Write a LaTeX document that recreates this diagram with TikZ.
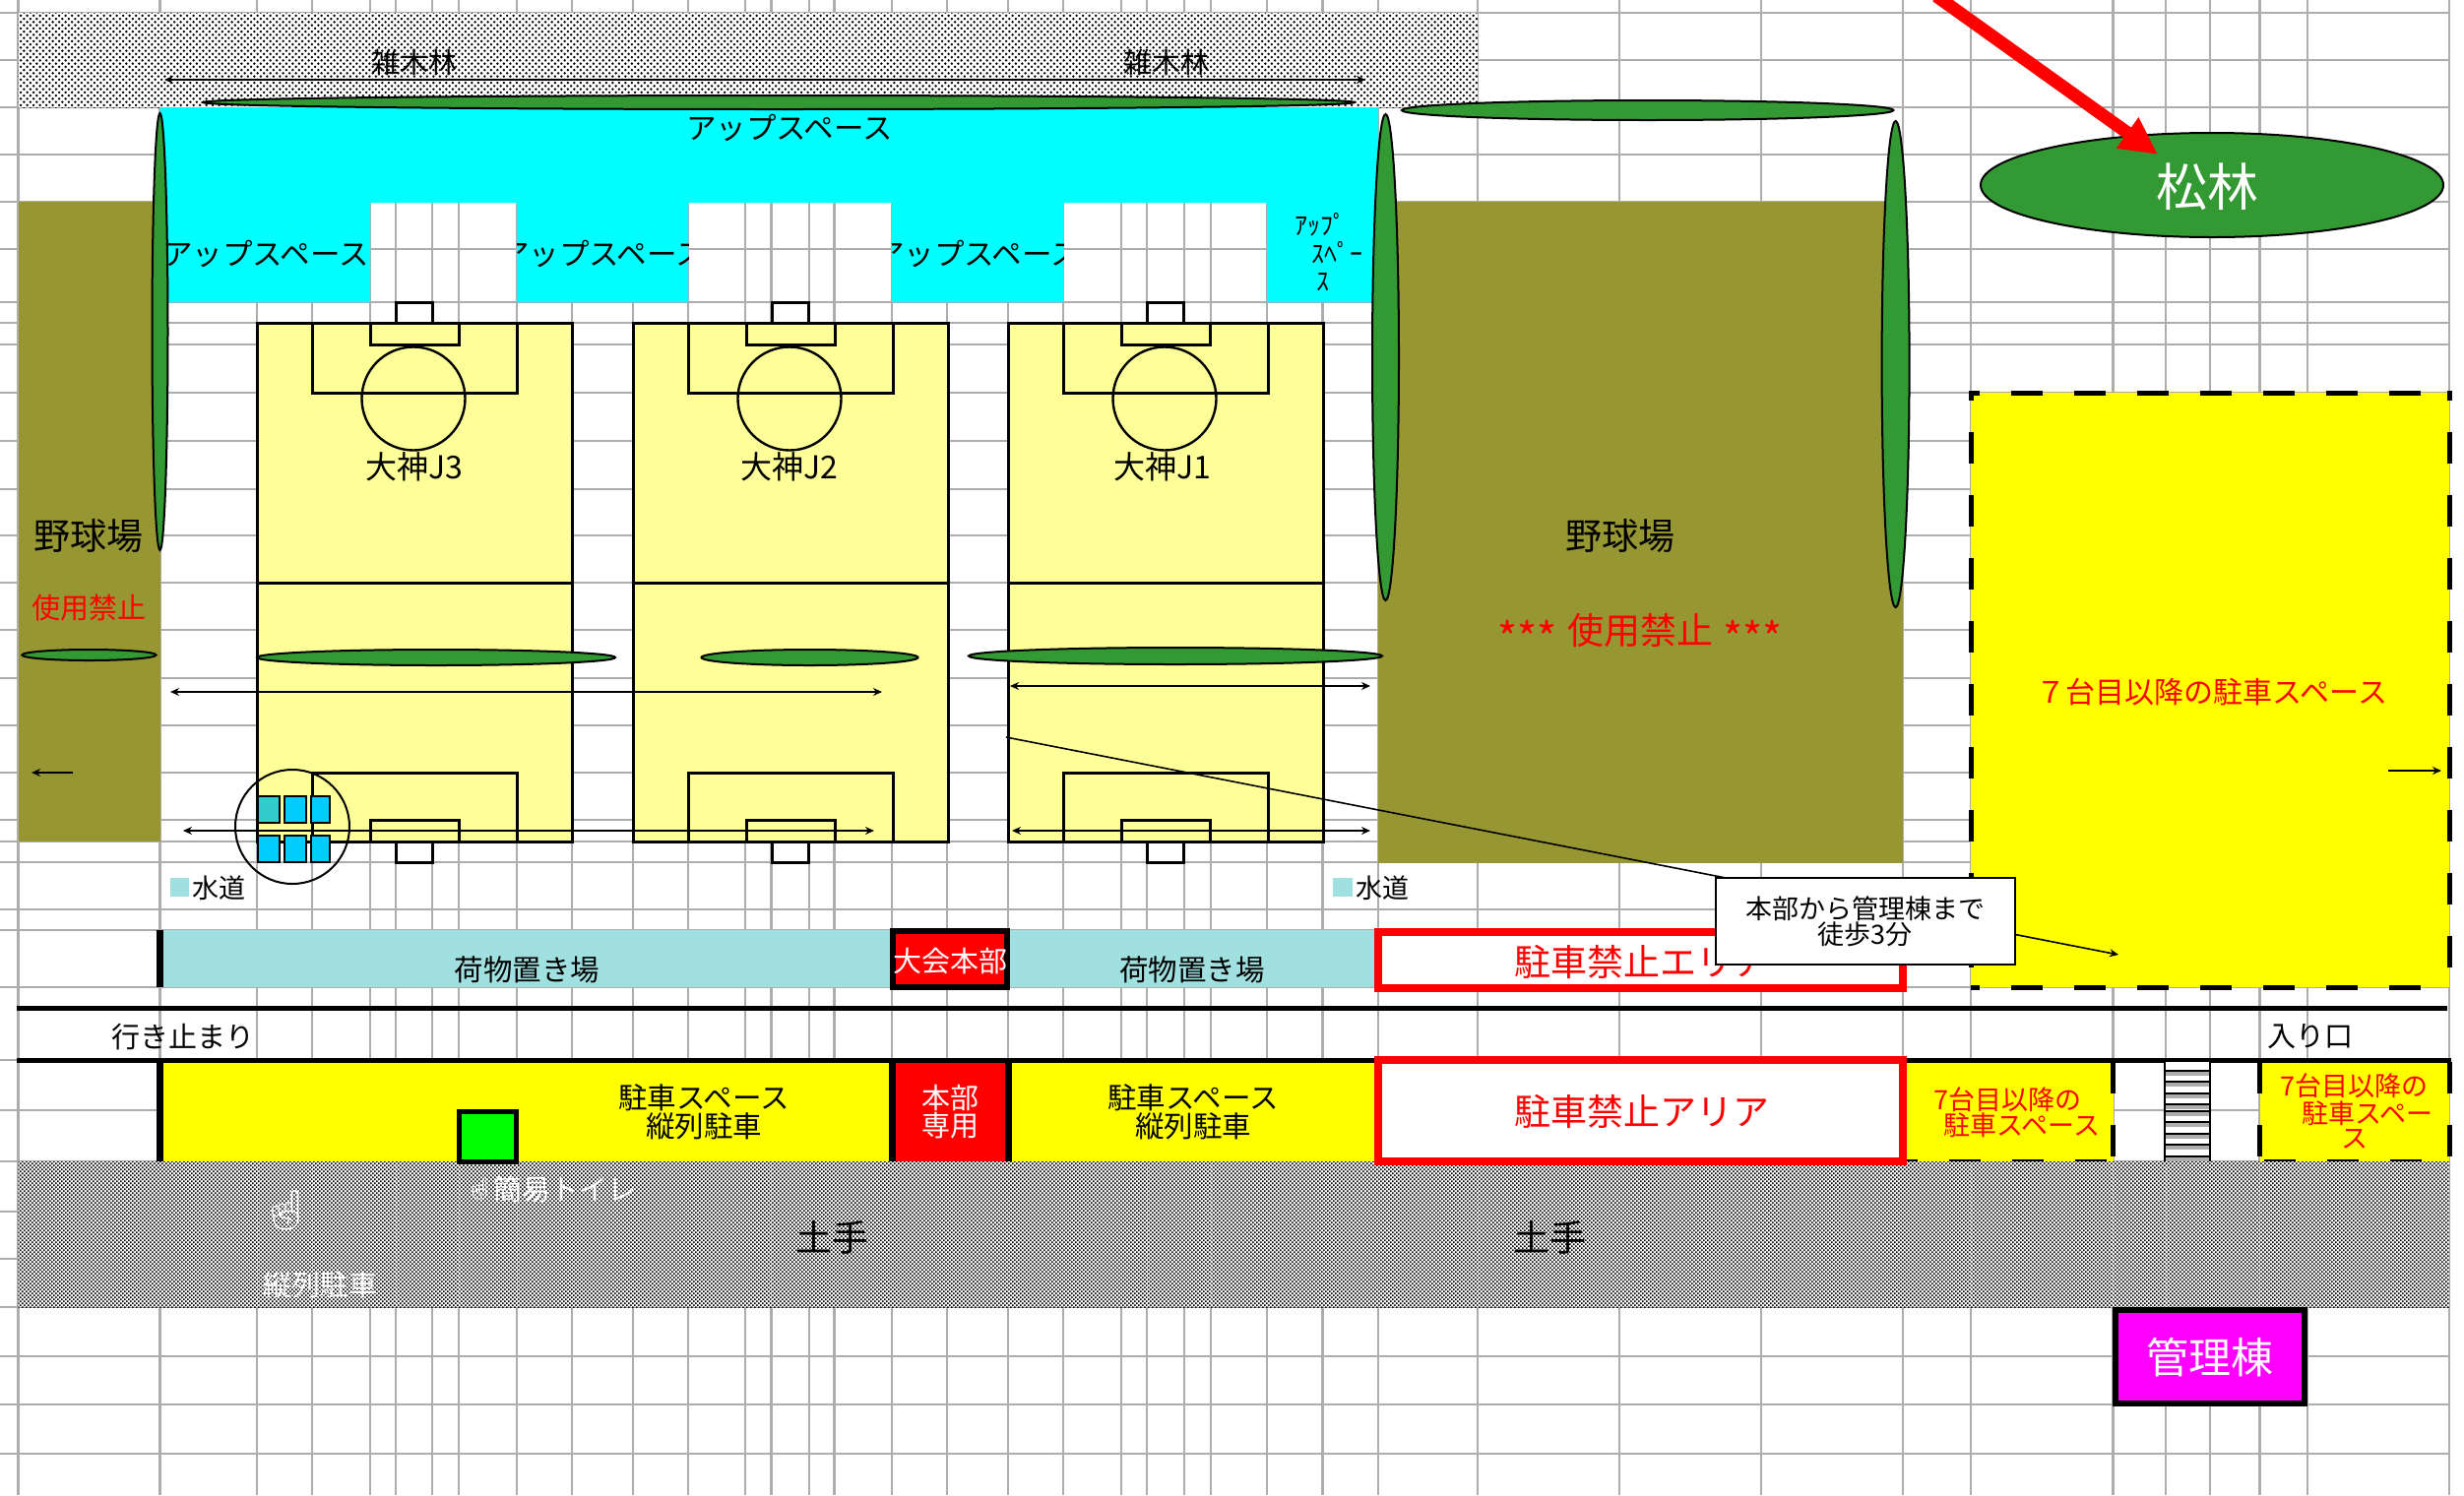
\documentclass[tikz,border=0pt]{standalone}
\usepackage{fontspec}
\usetikzlibrary{arrows.meta,patterns}
\newfontfamily\jp{Noto Sans CJK JP}
\newfontfamily\emo{Noto Emoji}
\newcommand{\fs}[1]{\fontsize{#1}{#1}\selectfont}
\pgfdeclarepatternformonly{fieldcheck}{\pgfqpoint{-2pt}{-2pt}}{\pgfqpoint{8pt}{8pt}}{\pgfqpoint{6.5pt}{6.5pt}}{%
  \pgfpathcircle{\pgfqpoint{1.6pt}{1.6pt}}{1.35pt}\pgfpathcircle{\pgfqpoint{4.85pt}{4.85pt}}{1.35pt}\pgfusepath{fill}}
\pgfdeclarepatternformonly{finecheck}{\pgfqpoint{-1pt}{-1pt}}{\pgfqpoint{5pt}{5pt}}{\pgfqpoint{4pt}{4pt}}{%
  \pgfpathrectangle{\pgfqpoint{0pt}{0pt}}{\pgfqpoint{1.7pt}{1.7pt}}\pgfpathrectangle{\pgfqpoint{2pt}{2pt}}{\pgfqpoint{1.7pt}{1.7pt}}\pgfusepath{fill}}
\definecolor{gridc}{HTML}{ADADAD}
\definecolor{olive}{HTML}{969632}
\definecolor{tree}{HTML}{339933}
\definecolor{pitch}{HTML}{FFFF99}
\definecolor{teal1}{HTML}{A1E0E0}
\definecolor{tapa}{HTML}{33CCCC}
\definecolor{tapb}{HTML}{00CCFF}
\definecolor{pureyellow}{HTML}{FFFF00}
\definecolor{purecyan}{HTML}{00FFFF}
\definecolor{puremag}{HTML}{FF00FF}
\definecolor{purered}{HTML}{FF0000}
\definecolor{puregreen}{HTML}{00FF00}
\tikzset{
  gridline/.style={gridc,line width=2.8pt},
  lbl/.style={inner sep=0pt,outer sep=0pt,align=center,font=\jp\fs{29}},
  upl/.style={lbl,font=\jp\fs{30.5}},
  treeshape/.style={fill=tree,draw=black,line width=2pt},
  line/.style={draw=black,line width=3pt},
  dim/.style={black,line width=1.6pt,{Stealth[length=9pt,width=8pt]}-{Stealth[length=9pt,width=8pt]}},
  one/.style={black,line width=1.6pt,-{Stealth[length=9pt,width=8pt]}},
  dashbox/.style={black,line width=5pt,dash pattern=on 32pt off 32pt},
  tap/.style={draw=black,line width=2pt},
}
\begin{document}
\begin{tikzpicture}[x=1pt,y=-1pt]
\useasboundingbox (0,0) rectangle (2503,1519);
\clip (0,0) rectangle (2503,1519);
\fill[white] (0,0) rectangle (2503,1519);
% grid
\foreach \gx in {18.5,162.5,261,317,376,402,439,466,525,581,643,699,757,783.5,822,847.5,906,962,1024,1080,1139,1165,1203,1230,1287,1343.5,1400,1501,1645,1789,1933,2002,2146.6,2200,2245,2295.5,2344,2488}
  \draw[gridline] (\gx,0) -- (\gx,1519);
\foreach \gy in {13,61,109,157,205,253,307,328,350,399,448,497,544,592,640,689,737,785,833,855,876,924,945,1003,1077,1128,1180,1231,1279,1328,1378,1427,1477}
  \draw[gridline] (0,\gy) -- (2489,\gy);
% woods
\fill[white] (18.5,13) rectangle (1501,109);
\fill[pattern=fieldcheck,pattern color=black] (18.5,13) rectangle (1501,109);
% cyan
\fill[purecyan] (162.5,109) -- (1400,109) -- (1400,307) -- (1287,307) -- (1287,206) -- (1080,206) -- (1080,307) -- (906,307) -- (906,206) -- (699,206) -- (699,307) -- (525,307) -- (525,206) -- (376,206) -- (376,307) -- (162.5,307) -- cycle;
% olive
\fill[olive] (18.5,205) rectangle (162.5,855);
\fill[olive] (1400,205) rectangle (1933,877);
% pitches
\foreach \ox/\pn/\tx in {0/3/421,382/2/420,763/1/418}{
  \begin{scope}[xshift=\ox pt]
  \fill[pitch] (261,328) rectangle (581,855);
  \draw[line] (261,328) rectangle (581,855);
  \draw[line] (261,592) -- (581,592);
  \draw[line] (317,328) rectangle (525,399);
  \draw[line] (376,328) rectangle (466,350);
  \draw[line] (402,328) -- (402,307) -- (439,307) -- (439,328);
  \draw[line] (317,855) rectangle (525,785);
  \draw[line] (376,855) rectangle (466,833);
  \draw[line] (402,855) -- (402,876) -- (439,876) -- (439,855);
  \draw[black,line width=2.4pt] (420,405) circle [radius=52.5pt];
  \node[lbl,font=\jp\fs{32}] (field\pn) at (\tx,474) {大神J\pn};
  \end{scope}
}
% trees
\draw[treeshape] (791,104) ellipse [x radius=585pt,y radius=7pt];
\draw[treeshape] (1673.7,112) ellipse [x radius=249.7pt,y radius=10pt];
\draw[treeshape] (162.5,337) ellipse [x radius=8pt,y radius=222pt];
\draw[treeshape] (1407.5,363) ellipse [x radius=13.5pt,y radius=247pt];
\draw[treeshape] (1925.6,370) ellipse [x radius=14pt,y radius=247pt];
\draw[treeshape] (90.5,665.5) ellipse [x radius=68pt,y radius=5.5pt];
\draw[treeshape] (443,668) ellipse [x radius=182pt,y radius=8pt];
\draw[treeshape] (822.5,668) ellipse [x radius=110pt,y radius=8pt];
\draw[treeshape] (1194,666.5) ellipse [x radius=210pt,y radius=8.5pt];
\draw[treeshape] (2247,188) ellipse [x radius=235pt,y radius=53pt];
\node[lbl,font=\jp\fs{52},white] (pine) at (2242,190) {松林};
% red arrow
\coordinate (redstart) at (1967,-4);
\coordinate (redend) at (2192,157);
\draw[purered,line width=13pt,-{Triangle[length=38pt,width=36pt]}] (redstart) -- (redend);
% labels top
\node[lbl] (wood1) at (421,63) {雑木林};
\node[lbl] (wood2) at (1184.5,63) {雑木林};
\coordinate (a1l) at (167,81); \coordinate (a1r) at (1387,81);
\draw[dim] (a1l) -- (a1r);
\node[upl] (up0) at (802,130) {アップスペース};
\node[upl] (up1) at (270,258) {アップスペース};
\begin{scope}
\clip (525,206) rectangle (699,307);
\node[upl] (up2) at (612,258) {アップスペース};
\end{scope}
\begin{scope}
\clip (906,206) rectangle (1080,307);
\node[upl] (up3) at (993,258) {アップスペース};
\end{scope}
\node[lbl,font=\jp\fs{26}] (up4a) at (1341,228) {ｱｯﾌﾟ};
\node[lbl,font=\jp\fs{26}] (up4b) at (1358,257) {ｽﾍﾟｰ};
\node[lbl,font=\jp\fs{26}] (up4c) at (1344,287) {ｽ};
\node[lbl,font=\jp\fs{37}] (ball1) at (90,544) {野球場};
\node[lbl,purered] (ban1) at (90,618) {使用禁止};
\node[lbl,font=\jp\fs{37}] (ball2) at (1646,544) {野球場};
\node[lbl,font=\jp\fs{37},purered] (ban2) at (1666,644) {{\fs{43}\raisebox{-10pt}{***}}\hspace{10pt}使用禁止\hspace{10pt}{\fs{43}\raisebox{-10pt}{***}}};
% dim arrows
\coordinate (a2l) at (173,703); \coordinate (a2r) at (896,703);
\draw[dim] (a2l) -- (a2r);
\coordinate (a3l) at (1026,697); \coordinate (a3r) at (1392,697);
\draw[dim] (a3l) -- (a3r);
\coordinate (a4l) at (186,844); \coordinate (a4r) at (888,844);
\draw[dim] (a4l) -- (a4r);
\coordinate (a5l) at (1028,844); \coordinate (a5r) at (1392,844);
\draw[dim] (a5l) -- (a5r);
\coordinate (a6s) at (74,785); \coordinate (a6e) at (32,785);
\draw[one] (a6s) -- (a6e);
\coordinate (a7s) at (2426,783); \coordinate (a7e) at (2480,783);
% taps
\foreach \tx/\ty/\tc/\tw in {262/809/tapa/22,289/809/tapb/22,316/809/tapb/19,262/849/tapb/22,289/849/tapb/22,316/849/tapb/19}
  \draw[tap,fill=\tc] (\tx,\ty) rectangle ++(\tw,27);
\draw[black,line width=2pt] (297,840) circle [radius=58pt];
% water legend
\fill[teal1] (173,892) rectangle (192,911);
\node[lbl,font=\jp\fs{27},anchor=west] (water1) at (195,902) {水道};
\fill[teal1] (1354,892) rectangle (1374,911);
\node[lbl,font=\jp\fs{27},anchor=west] (water2) at (1377,902) {水道};
% luggage row
\fill[teal1] (165,945) rectangle (1396,1003);
\draw[black,line width=7pt] (162.5,945) -- (162.5,1003);
\node[lbl,font=\jp\fs{29.5}] (lug1) at (535.5,985) {荷物置き場};
\node[lbl,font=\jp\fs{29.5}] (lug2) at (1211,985) {荷物置き場};
\draw[black,fill=purered,line width=6pt] (907,946) rectangle (1023,1003);
\node[lbl,white] (hq) at (965,977) {大会本部};
\draw[purered,fill=white,line width=8pt] (1400,947) rectangle (1933,1004);
\node[lbl,purered,font=\jp\fs{37}] (nop1) at (1668,977) {駐車禁止エリア};
% big yellow
\fill[pureyellow] (2002,399) rectangle (2488,1003);
\draw[dashbox,dash phase=23pt] (2002,399) -- (2488,399);
\draw[dashbox] (2002,397) -- (2002,407);
\draw[dashbox] (2488,397) -- (2488,407);
\draw[dashbox] (2488,439) -- (2488,1003);
\draw[dashbox] (2002,439) -- (2002,1003);
\draw[dashbox,dash phase=23pt] (2002,1003) -- (2488,1003);
\node[lbl,purered,font=\jp\fs{30}] (over) at (2247,703) {７台目以降の駐車スペース};
\draw[one] (a7s) -- (a7e);
% callout
\coordinate (calls) at (1022,749); \coordinate (calle) at (2152,970);
\draw[one] (calls) -- (calle);
\node[draw=black,fill=white,line width=2pt,minimum width=304pt,minimum height=88pt,inner sep=0pt,align=center,font=\jp\fs{27}] (callout) at (1894.5,936) {本部から管理棟まで\\[-1pt]徒歩3分};
% roads
\draw[black,line width=5pt] (17,1024) -- (2486,1024);
\node[lbl] (dead) at (186,1053) {行き止まり};
\node[lbl] (entry) at (2347,1053) {入り口};
% bottom row
\fill[pureyellow] (162.5,1077) rectangle (906,1180);
\fill[pureyellow] (1024,1077) rectangle (1400,1180);
\fill[purered] (906,1077) rectangle (1024,1180);
\draw[black,line width=7pt] (162.5,1077) -- (162.5,1180);
\draw[black,line width=7pt] (906,1077) -- (906,1180);
\draw[black,line width=7pt] (1024,1077) -- (1024,1180);
\node[lbl,font=\jp\fs{29.5}] (park1) at (715,1130) {駐車スペース\\[-1pt]縦列駐車};
\node[lbl,font=\jp\fs{29.5}] (park2) at (1212,1130) {駐車スペース\\[-1pt]縦列駐車};
\node[lbl,white] (hqp) at (965,1130) {本部\\[-1pt]専用};
% yellow dashed small
\fill[pureyellow] (1933,1079) rectangle (2147,1180);
\fill[pureyellow] (2296,1079) rectangle (2488,1180);
\draw[black,line width=5pt] (17,1077) -- (2490,1077);
\draw[dashbox] (2146.6,1079) -- (2146.6,1175);
\draw[dashbox,dash phase=21pt] (1937,1180) -- (2146,1180);
\draw[dashbox] (2295.5,1079) -- (2295.5,1175);
\draw[dashbox] (2488,1079) -- (2488,1111);
\draw[dashbox] (2488,1143) -- (2488,1175);
\draw[dashbox] (2300,1180) -- (2470,1180);
\node[lbl,purered,font=\jp\fs{27}] (o1a) at (2039.5,1117) {7台目以降の};
\node[lbl,purered,font=\jp\fs{27}] (o1b) at (2054,1143) {駐車スペース};
\node[lbl,purered,font=\jp\fs{27}] (o2a) at (2391.5,1103) {7台目以降の};
\node[lbl,purered,font=\jp\fs{27}] (o2b) at (2405,1131) {駐車スペー};
\node[lbl,purered,font=\jp\fs{27}] (o2c) at (2392,1157) {ス};
% crosswalk
\fill[white] (2199,1079) rectangle (2245,1180);
\foreach \sy in {1088,1099,1111,1122,1129,1140,1152,1163,1175}{
  \draw[gridc,line width=5pt] (2199,\sy+2) -- (2245,\sy+2);
  \draw[black,line width=2pt] (2199,\sy) -- (2245,\sy);
}
\draw[black,line width=2.8pt] (2199,1079) -- (2199,1180);
\draw[black,line width=2.8pt] (2245,1079) -- (2245,1180);
% no parking
\draw[purered,fill=white,line width=8pt] (1400,1077) rectangle (1933,1180);
\node[lbl,purered,font=\jp\fs{37}] (nop2) at (1668,1129) {駐車禁止アリア};
% dote
\fill[white] (18.5,1180) rectangle (2488,1328);
\fill[pattern=finecheck,pattern color=black] (18.5,1180) rectangle (2488,1328);
\foreach \gx in {261,317,402,466,525,783.5,1165,1230,1501,2146.6,2002,2200,2295.5}
  \draw[white,line width=1pt,densely dotted,opacity=.5] (\gx,1184) -- (\gx,1328);
\draw[purered,line width=8pt] (1396,1180) -- (1937,1180);
\draw[black,fill=puregreen,line width=5pt] (466,1129) rectangle (524,1180);
\node[lbl,font=\jp\fs{37}] (bank1) at (845,1257) {土手};
\node[lbl,font=\jp\fs{37}] (bank2) at (1574,1257) {土手};
\node[lbl,white] (toilet) at (574,1208) {簡易トイレ};
\node[lbl,white,font=\emo\fs{22}] (hand1) at (487,1208) {☝};
\node[lbl,white,font=\emo\fs{40}] (hand2) at (290,1230) {☝};
\node[lbl,white] (tandem) at (325,1305) {縦列駐車};
% office
\draw[black,fill=puremag,line width=6pt] (2149,1331) rectangle (2341,1426);
\node[lbl,white,font=\jp\fs{43}] (office) at (2245,1379) {管理棟};
\end{tikzpicture}
\end{document}
